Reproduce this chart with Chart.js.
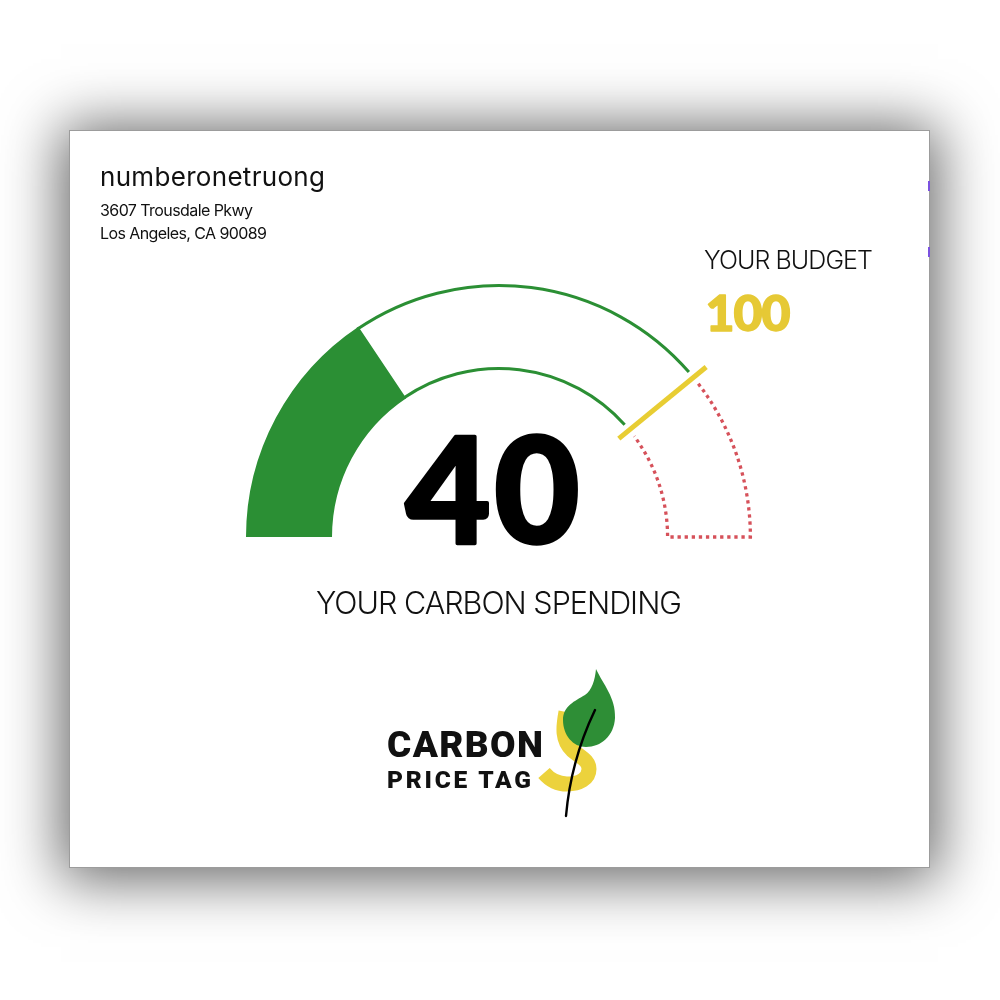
<!DOCTYPE html>
<html>
<head>
<meta charset="utf-8">
<script src="https://cdn.jsdelivr.net/npm/chart.js@4.4.1/dist/chart.umd.min.js"></script>
<style>
  html, body { margin: 0; padding: 0; background: #ffffff; width: 1000px; height: 1000px; overflow: hidden; }
  #card { position: absolute; left: 69px; top: 130px; width: 861px; height: 738px; box-sizing: border-box;
          border: 1px solid #9c9c9c; background: #ffffff; box-shadow: 0 4px 55px 8px rgba(0,0,0,0.6); }
  .mark { position: absolute; left: 928px; width: 2px; height: 10px; background: #7b52e0; }
  #gauge { position: absolute; left: 226px; top: 264px; }
  #overlay { position: absolute; left: 0; top: 0; }
</style>
</head>
<body>
<div id="card"></div>
<div class="mark" style="top:181px"></div>
<div class="mark" style="top:247px"></div>
<canvas id="gauge" width="546" height="293"></canvas>
<svg id="overlay" width="1000" height="1000" xmlns="http://www.w3.org/2000/svg">
  <g font-family="Inter, 'Noto Sans', sans-serif" fill="#111">
    <text id="tName" x="100" y="186" font-size="26" font-weight="400" textLength="225" lengthAdjust="spacing"></text>
    <text id="tAddr1" x="100" y="215.5" font-size="16" font-weight="400" textLength="153" lengthAdjust="spacing"></text>
    <text id="tAddr2" x="100" y="238.5" font-size="16" font-weight="400" textLength="167" lengthAdjust="spacing"></text>
    <text id="tBudgetLabel" x="704" y="269" font-size="25" font-weight="300" textLength="169" lengthAdjust="spacing"></text>
    <text id="tSpendLabel" x="316" y="614" font-size="30.5" font-weight="300" textLength="366" lengthAdjust="spacing"></text>
  </g>
  <g font-family="Lato, sans-serif" font-weight="900">
    <text id="tBudget" x="705.5" y="330.5" font-size="50" fill="#e6c935" stroke="#e6c935" stroke-width="1.5" stroke-linejoin="round" textLength="85" lengthAdjust="spacing"></text>
    <text id="tSpend" x="405.5" y="542.5" font-size="147" fill="#000" stroke="#000" stroke-width="3.5" stroke-linejoin="round" textLength="174" lengthAdjust="spacing"></text>
  </g>
  <g font-family="Roboto, sans-serif" font-weight="900" fill="#111">
    <text id="tLogo1" x="387" y="757" font-size="37" textLength="156" lengthAdjust="spacing"></text>
    <text id="tLogo2" x="387" y="788" font-size="24.5" textLength="144" lengthAdjust="spacing"></text>
  </g>
  <g transform="translate(530,660)">
    <path d="M36,52 C33,68 32,80 42,90 C50,97 59,100 59,109 C59,119 49,124 37,124 C28,124 20,120 14,113"
          fill="none" stroke="#ecd23c" stroke-width="15"/>
    <path d="M66,9 C73,24 86,38 85,58 C84,76 71,87 56,87 C43,87 33,75 33,60 C33,46 45,41 55,35 C62,30 65,20 66,9 Z"
          fill="#2e8e36"/>
    <path d="M65,50 C53,75 40,110 36,156" fill="none" stroke="#000" stroke-width="2.4" stroke-linecap="round"/>
  </g>
</svg>
<script>
// ---- data ----
const ownerName = 'numberonetruong';
const addressLines = ['3607 Trousdale Pkwy', 'Los Angeles, CA 90089'];
const segmentLabels = ['Spent', 'Remaining budget', 'Over budget'];
const segmentValues = [40, 60, 28];
const spendingValue = 40;
const budgetValue = 100;
const spendingLabel = 'YOUR CARBON SPENDING';
const budgetLabel = 'YOUR BUDGET';
const logoLines = ['CARBON', 'PRICE TAG'];

// ---- colours ----
const GREEN = '#2b8f34';
const RED = '#d6515a';
const YELLOW = '#e8cd33';

document.getElementById('tName').textContent = ownerName;
document.getElementById('tAddr1').textContent = addressLines[0];
document.getElementById('tAddr2').textContent = addressLines[1];
document.getElementById('tBudgetLabel').textContent = budgetLabel;
document.getElementById('tSpendLabel').textContent = spendingLabel;
document.getElementById('tBudget').textContent = String(budgetValue);
document.getElementById('tSpend').textContent = String(spendingValue);
document.getElementById('tLogo1').textContent = logoLines[0];
document.getElementById('tLogo2').textContent = logoLines[1];

const gaugeOverlay = {
  id: 'gaugeOverlay',
  afterDatasetsDraw(chart) {
    const ctx = chart.ctx;
    const arcs = chart.getDatasetMeta(0).data;
    const props = ['x', 'y', 'startAngle', 'endAngle', 'innerRadius', 'outerRadius'];
    const a1 = arcs[1].getProps(props, true);
    const a2 = arcs[2].getProps(props, true);
    ctx.save();
    // remaining budget: green outline arcs
    ctx.strokeStyle = GREEN;
    ctx.lineWidth = 3;
    ctx.lineCap = 'butt';
    const rO = a1.outerRadius - 1.5, rI = a1.innerRadius + 1.5;
    ctx.beginPath();
    ctx.arc(a1.x, a1.y, rO, a1.startAngle - 0.01, a1.endAngle - 7 / rO);
    ctx.stroke();
    ctx.beginPath();
    ctx.arc(a1.x, a1.y, rI, a1.startAngle - 0.01, a1.endAngle - 7 / rI);
    ctx.stroke();
    // over budget: red dotted outline
    ctx.strokeStyle = RED;
    ctx.lineWidth = 3.3;
    ctx.setLineDash([3.3, 3.8]);
    const r2O = a2.outerRadius - 1.6, r2I = a2.innerRadius + 1.6;
    ctx.beginPath();
    ctx.arc(a2.x, a2.y, r2O, a2.startAngle + 8 / r2O, a2.endAngle);
    ctx.lineTo(a2.x + Math.cos(a2.endAngle) * r2I, a2.y + Math.sin(a2.endAngle) * r2I);
    ctx.arc(a2.x, a2.y, r2I, a2.endAngle, a2.startAngle + 8 / r2I, true);
    ctx.stroke();
    // budget marker
    ctx.setLineDash([]);
    ctx.strokeStyle = YELLOW;
    ctx.lineWidth = 5;
    const ang = a1.endAngle;
    const rIn = a1.innerRadius - 12, rOut = a1.outerRadius + 15;
    ctx.beginPath();
    ctx.moveTo(a1.x + Math.cos(ang) * rIn, a1.y + Math.sin(ang) * rIn);
    ctx.lineTo(a1.x + Math.cos(ang) * rOut, a1.y + Math.sin(ang) * rOut);
    ctx.stroke();
    ctx.restore();
  }
};

new Chart(document.getElementById('gauge'), {
  type: 'doughnut',
  data: {
    labels: segmentLabels,
    datasets: [{
      data: segmentValues,
      backgroundColor: [GREEN, 'rgba(255,255,255,0)', 'rgba(255,255,255,0)'],
      borderWidth: 0,
      hoverOffset: 0
    }]
  },
  options: {
    responsive: false,
    devicePixelRatio: 1,
    animation: false,
    rotation: -90,
    circumference: 180,
    cutout: '66%',
    layout: { padding: 20 },
    plugins: { legend: { display: false }, tooltip: { enabled: false } },
    events: []
  },
  plugins: [gaugeOverlay]
});
</script>
</body>
</html>
